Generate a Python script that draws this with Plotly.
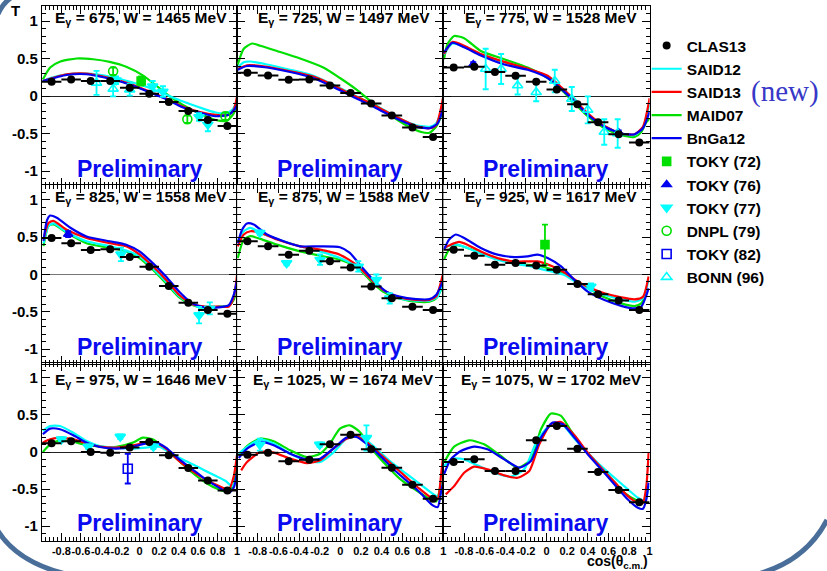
import numpy as np
import plotly.graph_objects as go

W, H = 827, 571

E_GAMMA = [675, 725, 775, 825, 875, 925, 975, 1025, 1075]
W_CM = [1465, 1497, 1528, 1558, 1588, 1617, 1646, 1674, 1702]

# ---------------- CLAS13 data ----------------
CLAS13_X = [-0.9, -0.7, -0.5, -0.3, -0.1, 0.1, 0.3, 0.5, 0.7, 0.9]
CLAS13_XERR = [0.1, 0.1, 0.1, 0.1, 0.1, 0.1, 0.1, 0.1, 0.1, 0.1]
CLAS13_Y = [
    [0.19, 0.22, 0.20, 0.20, 0.11, 0.03, -0.08, -0.20, -0.32, -0.40],
    [0.31, 0.275, 0.216, 0.22, 0.14, 0.04, -0.10, -0.26, -0.42, -0.545],
    [0.38, 0.39, 0.32, 0.27, 0.19, 0.086, -0.11, -0.35, -0.51, -0.62],
    [0.49, 0.42, 0.33, 0.34, 0.234, 0.104, -0.153, -0.378, -0.477, -0.527],
    [0.446, 0.378, 0.266, 0.32, 0.176, 0.095, -0.162, -0.32, -0.432, -0.477],
    [0.333, 0.252, 0.13, 0.153, 0.12, 0.063, -0.126, -0.266, -0.35, -0.477],
    [0.117, 0.144, 0.0, -0.009, 0.059, 0.135, -0.045, -0.216, -0.383, -0.518],
    [-0.036, -0.009, -0.126, -0.104, 0.104, 0.234, 0.036, -0.212, -0.441, -0.63],
    [-0.135, -0.099, -0.257, -0.257, 0.158, 0.351, 0.045, -0.27, -0.514, -0.676],
]

# ---------------- model curves ----------------
SAID12_X = [
    [-0.99, -0.915, -0.746, -0.542, -0.305, -0.068, 0.10, 0.27, 0.44, 0.61, 0.78, 0.88, 0.95, 1.0],
    [-0.994, -0.936, -0.871, -0.71, -0.486, -0.26, -0.068, 0.093, 0.254, 0.415, 0.576, 0.736, 0.865, 0.929, 1.0],
    [-0.994, -0.913, -0.799, -0.637, -0.41, -0.183, 0.011, 0.141, 0.271, 0.40, 0.562, 0.724, 0.854, 0.935, 1.0],
    [-0.983, -0.932, -0.881, -0.746, -0.542, -0.305, -0.136, 0.0, 0.136, 0.271, 0.407, 0.542, 0.678, 0.814, 0.915, 0.966, 1.0],
    [-0.994, -0.936, -0.871, -0.775, -0.614, -0.389, -0.196, -0.003, 0.158, 0.286, 0.415, 0.576, 0.736, 0.865, 0.945, 1.0],
    [-0.994, -0.929, -0.864, -0.767, -0.637, -0.475, -0.313, -0.183, -0.086, 0.044, 0.173, 0.303, 0.433, 0.562, 0.724, 0.854, 0.935, 0.99],
    [-0.99, -0.915, -0.814, -0.678, -0.542, -0.407, -0.237, -0.068, 0.068, 0.203, 0.339, 0.475, 0.61, 0.746, 0.881, 0.949, 1.0],
    [-0.984, -0.904, -0.775, -0.646, -0.486, -0.325, -0.196, -0.068, 0.061, 0.158, 0.254, 0.383, 0.511, 0.64, 0.768, 0.897, 0.961, 1.0],
    [-0.994, -0.913, -0.799, -0.67, -0.508, -0.345, -0.216, -0.086, 0.044, 0.141, 0.271, 0.40, 0.53, 0.659, 0.789, 0.886, 0.951, 0.99],
]
SAID12_Y = [
    [0.2, 0.24, 0.29, 0.30, 0.26, 0.18, 0.11, 0.02, -0.07, -0.15, -0.22, -0.23, -0.185, -0.07],
    [0.38, 0.45, 0.46, 0.42, 0.35, 0.27, 0.15, 0.04, -0.07, -0.18, -0.30, -0.39, -0.41, -0.365, -0.14],
    [0.55, 0.70, 0.66, 0.55, 0.45, 0.36, 0.26, 0.11, -0.06, -0.24, -0.41, -0.50, -0.52, -0.42, -0.1],
    [0.42, 0.65, 0.685, 0.57, 0.446, 0.38, 0.32, 0.243, 0.085, -0.095, -0.29, -0.40, -0.455, -0.43, -0.42, -0.30, -0.07],
    [0.446, 0.58, 0.626, 0.56, 0.477, 0.378, 0.31, 0.22, 0.108, -0.05, -0.207, -0.32, -0.35, -0.35, -0.297, -0.07],
    [0.356, 0.392, 0.40, 0.356, 0.28, 0.198, 0.144, 0.117, 0.086, 0.04, -0.005, -0.117, -0.207, -0.275, -0.333, -0.365, -0.32, -0.07],
    [0.284, 0.35, 0.35, 0.26, 0.149, 0.081, 0.059, 0.045, 0.059, 0.072, -0.032, -0.122, -0.21, -0.30, -0.39, -0.46, -0.35],
    [-0.023, 0.068, 0.167, 0.113, -0.023, -0.113, -0.135, -0.009, 0.18, 0.216, 0.158, 0.0, -0.158, -0.293, -0.428, -0.563, -0.608, -0.36],
    [-0.19, -0.09, -0.099, -0.18, -0.28, -0.333, -0.234, 0.171, 0.374, 0.387, 0.18, -0.009, -0.19, -0.347, -0.505, -0.617, -0.662, -0.46],
]

SAID13_X = [
    [-0.99, -0.746, -0.542, -0.305, -0.068, 0.10, 0.27, 0.44, 0.61, 0.78, 0.915, 0.966, 1.0],
    [-0.994, -0.904, -0.71, -0.486, -0.26, -0.068, 0.093, 0.254, 0.415, 0.576, 0.736, 0.865, 0.929, 1.0],
    [-0.994, -0.913, -0.799, -0.637, -0.41, -0.183, 0.011, 0.141, 0.271, 0.40, 0.562, 0.724, 0.854, 0.935, 1.0],
    [-0.983, -0.932, -0.881, -0.746, -0.542, -0.305, -0.136, 0.0, 0.136, 0.271, 0.407, 0.542, 0.678, 0.814, 0.915, 0.966, 1.0],
    [-0.994, -0.936, -0.871, -0.775, -0.614, -0.389, -0.196, -0.003, 0.158, 0.286, 0.415, 0.576, 0.736, 0.865, 0.929, 0.994],
    [-0.994, -0.929, -0.848, -0.767, -0.637, -0.475, -0.313, -0.183, -0.086, 0.044, 0.173, 0.303, 0.433, 0.562, 0.724, 0.854, 0.935, 0.99],
    [-0.99, -0.915, -0.814, -0.678, -0.542, -0.407, -0.237, -0.068, 0.068, 0.169, 0.271, 0.407, 0.542, 0.678, 0.814, 0.915, 0.966, 1.0],
    [-0.961, -0.904, -0.775, -0.646, -0.486, -0.325, -0.196, -0.068, 0.061, 0.158, 0.254, 0.383, 0.511, 0.64, 0.768, 0.897, 0.945, 0.977, 1.0],
    [-0.977, -0.896, -0.799, -0.702, -0.572, -0.41, -0.28, -0.167, -0.07, 0.044, 0.141, 0.271, 0.40, 0.53, 0.659, 0.789, 0.886, 0.935, 0.968, 0.99],
]
SAID13_Y = [
    [0.2, 0.29, 0.30, 0.24, 0.15, 0.06, -0.03, -0.14, -0.21, -0.25, -0.25, -0.18, 0.0],
    [0.36, 0.41, 0.39, 0.33, 0.26, 0.145, 0.03, -0.07, -0.185, -0.30, -0.40, -0.43, -0.39, 0.0],
    [0.56, 0.72, 0.67, 0.56, 0.455, 0.365, 0.27, 0.12, -0.05, -0.23, -0.40, -0.50, -0.51, -0.41, -0.03],
    [0.47, 0.69, 0.72, 0.60, 0.49, 0.42, 0.38, 0.27, 0.11, -0.07, -0.275, -0.40, -0.43, -0.43, -0.43, -0.30, 0.0],
    [0.378, 0.536, 0.58, 0.56, 0.47, 0.378, 0.333, 0.266, 0.13, -0.05, -0.207, -0.306, -0.342, -0.342, -0.297, -0.005],
    [0.356, 0.40, 0.437, 0.40, 0.31, 0.22, 0.176, 0.176, 0.176, 0.117, 0.027, -0.095, -0.185, -0.252, -0.306, -0.333, -0.30, -0.027],
    [0.126, 0.171, 0.194, 0.171, 0.117, 0.072, 0.059, 0.09, 0.126, 0.126, 0.045, -0.122, -0.257, -0.37, -0.46, -0.505, -0.324, -0.03],
    [-0.248, -0.135, 0.0, -0.009, -0.09, -0.149, -0.113, 0.045, 0.18, 0.216, 0.135, -0.023, -0.18, -0.338, -0.495, -0.63, -0.63, -0.315, -0.02],
    [-0.572, -0.46, -0.28, -0.198, -0.234, -0.315, -0.347, -0.257, 0.104, 0.374, 0.405, 0.225, -0.009, -0.212, -0.405, -0.595, -0.685, -0.685, -0.46, -0.01],
]

MAID07_X = [
    [-0.99, -0.915, -0.81, -0.644, -0.475, -0.305, -0.136, 0.034, 0.17, 0.305, 0.44, 0.61, 0.78, 0.898, 0.966, 1.0],
    [-0.994, -0.936, -0.855, -0.775, -0.614, -0.389, -0.164, -0.003, 0.158, 0.318, 0.479, 0.64, 0.785, 0.865, 0.929, 0.977, 1.0],
    [-0.994, -0.961, -0.896, -0.799, -0.637, -0.41, -0.183, 0.011, 0.141, 0.271, 0.40, 0.562, 0.724, 0.854, 0.919, 0.968, 1.0],
    [-0.983, -0.932, -0.881, -0.746, -0.542, -0.305, -0.136, 0.0, 0.136, 0.271, 0.407, 0.542, 0.678, 0.814, 0.915, 0.966, 1.0],
    [-0.994, -0.936, -0.871, -0.775, -0.614, -0.389, -0.196, -0.003, 0.158, 0.286, 0.415, 0.576, 0.736, 0.865, 0.929, 0.994],
    [-0.994, -0.945, -0.864, -0.767, -0.637, -0.475, -0.313, -0.183, -0.086, 0.044, 0.173, 0.303, 0.433, 0.562, 0.724, 0.854, 0.919, 0.968],
    [-0.99, -0.915, -0.83, -0.712, -0.576, -0.407, -0.237, -0.068, 0.034, 0.136, 0.271, 0.407, 0.542, 0.678, 0.814, 0.915, 0.966, 0.99],
    [-0.984, -0.904, -0.775, -0.646, -0.486, -0.325, -0.196, -0.10, -0.003, 0.093, 0.19, 0.318, 0.447, 0.576, 0.736, 0.865, 0.929, 0.977],
    [-0.994, -0.896, -0.75, -0.605, -0.442, -0.28, -0.151, -0.054, 0.044, 0.141, 0.238, 0.368, 0.497, 0.627, 0.756, 0.886, 0.935, 0.984],
]
MAID07_Y = [
    [0.22, 0.38, 0.46, 0.50, 0.49, 0.455, 0.39, 0.275, 0.14, 0.0, -0.117, -0.23, -0.32, -0.33, -0.23, -0.10],
    [0.42, 0.63, 0.70, 0.67, 0.60, 0.50, 0.38, 0.24, 0.085, -0.095, -0.25, -0.39, -0.48, -0.49, -0.41, -0.27, -0.18],
    [0.49, 0.69, 0.80, 0.77, 0.60, 0.49, 0.38, 0.24, 0.086, -0.095, -0.27, -0.43, -0.52, -0.545, -0.48, -0.35, -0.3],
    [0.38, 0.65, 0.67, 0.56, 0.42, 0.356, 0.31, 0.22, 0.063, -0.117, -0.306, -0.41, -0.455, -0.43, -0.42, -0.34, -0.16],
    [0.22, 0.468, 0.514, 0.477, 0.40, 0.31, 0.252, 0.198, 0.10, -0.072, -0.23, -0.32, -0.365, -0.365, -0.32, -0.16],
    [0.198, 0.333, 0.392, 0.356, 0.288, 0.207, 0.153, 0.13, 0.117, 0.072, 0.005, -0.108, -0.207, -0.306, -0.387, -0.423, -0.387, -0.25],
    [0.0, 0.104, 0.149, 0.149, 0.104, 0.072, 0.068, 0.126, 0.194, 0.171, 0.036, -0.122, -0.28, -0.414, -0.505, -0.54, -0.437, -0.23],
    [-0.045, 0.081, 0.18, 0.144, 0.023, -0.068, -0.023, 0.113, 0.315, 0.36, 0.27, 0.023, -0.18, -0.36, -0.518, -0.63, -0.667, -0.405],
    [-0.144, 0.072, 0.158, 0.104, -0.054, -0.212, -0.099, 0.306, 0.518, 0.486, 0.284, 0.036, -0.167, -0.36, -0.55, -0.662, -0.685, -0.46],
]

BNGA12_X = [
    [-0.99, -0.746, -0.542, -0.305, -0.068, 0.10, 0.27, 0.44, 0.61, 0.78, 0.915, 0.966, 1.0],
    [-0.994, -0.904, -0.71, -0.486, -0.26, -0.068, 0.093, 0.254, 0.415, 0.576, 0.736, 0.865, 0.945, 1.0],
    [-0.994, -0.913, -0.799, -0.637, -0.41, -0.183, 0.011, 0.141, 0.271, 0.40, 0.562, 0.724, 0.854, 0.935, 1.0],
    [-0.983, -0.949, -0.915, -0.847, -0.712, -0.542, -0.305, -0.136, 0.0, 0.136, 0.271, 0.407, 0.542, 0.678, 0.814, 0.915, 0.966, 1.0],
    [-0.994, -0.952, -0.904, -0.839, -0.71, -0.55, -0.389, -0.196, -0.003, 0.093, 0.19, 0.318, 0.447, 0.576, 0.736, 0.865, 0.929, 0.994],
    [-0.994, -0.945, -0.88, -0.799, -0.637, -0.475, -0.313, -0.183, -0.086, 0.011, 0.141, 0.271, 0.40, 0.562, 0.724, 0.854, 0.919, 0.99],
    [-0.99, -0.915, -0.814, -0.678, -0.542, -0.407, -0.237, -0.068, 0.068, 0.169, 0.271, 0.407, 0.542, 0.678, 0.814, 0.915, 0.966, 1.0],
    [-0.984, -0.904, -0.775, -0.646, -0.486, -0.325, -0.196, -0.068, 0.061, 0.158, 0.254, 0.383, 0.511, 0.64, 0.768, 0.897, 0.945, 0.977, 1.0],
    [-0.994, -0.929, -0.832, -0.702, -0.572, -0.41, -0.264, -0.151, -0.054, 0.06, 0.157, 0.271, 0.40, 0.53, 0.659, 0.789, 0.886, 0.935, 0.968, 0.99],
]
BNGA12_Y = [
    [0.2, 0.28, 0.29, 0.23, 0.14, 0.05, -0.04, -0.15, -0.22, -0.27, -0.25, -0.19, -0.12],
    [0.35, 0.40, 0.38, 0.32, 0.24, 0.12, 0.01, -0.095, -0.21, -0.32, -0.41, -0.43, -0.365, -0.15],
    [0.58, 0.71, 0.65, 0.54, 0.42, 0.35, 0.24, 0.095, -0.07, -0.25, -0.41, -0.50, -0.51, -0.43, -0.21],
    [0.45, 0.72, 0.79, 0.76, 0.63, 0.51, 0.446, 0.40, 0.31, 0.153, -0.027, -0.23, -0.387, -0.44, -0.44, -0.41, -0.27, -0.07],
    [0.42, 0.60, 0.685, 0.67, 0.536, 0.446, 0.378, 0.378, 0.365, 0.29, 0.13, -0.07, -0.23, -0.297, -0.33, -0.33, -0.275, -0.095],
    [0.333, 0.468, 0.536, 0.49, 0.356, 0.266, 0.234, 0.243, 0.266, 0.22, 0.108, -0.072, -0.23, -0.342, -0.42, -0.455, -0.43, -0.185],
    [0.24, 0.315, 0.306, 0.225, 0.126, 0.068, 0.045, 0.072, 0.117, 0.126, 0.059, -0.099, -0.234, -0.37, -0.48, -0.55, -0.48, -0.257],
    [-0.081, 0.045, 0.135, 0.09, -0.023, -0.099, -0.09, 0.045, 0.194, 0.203, 0.113, -0.045, -0.225, -0.383, -0.54, -0.72, -0.743, -0.54, -0.405],
    [-0.30, -0.099, 0.0135, 0.072, 0.036, -0.099, -0.212, -0.121, 0.194, 0.396, 0.374, 0.194, -0.032, -0.234, -0.437, -0.64, -0.752, -0.766, -0.64, -0.414],
]

# ---------------- older data sets (panel index, x, y, error) ----------------
TOKY72_PANEL = [0, 5]
TOKY72_X = [0.017, -0.015]
TOKY72_Y = [0.20, 0.40]
TOKY72_ERR = [0.06, 0.27]

TOKY76_PANEL = [2, 2, 3]
TOKY76_X = [-0.71, 0.70, -0.73]
TOKY76_Y = [0.42, -0.49, 0.54]
TOKY76_ERR = [0.03, 0.03, 0.04]

TOKY77_PANEL = [0, 0, 0, 0, 0, 3, 3, 3, 4, 4, 4, 4, 4, 4, 5, 6, 6, 6, 6, 7, 7, 7]
TOKY77_X = [-0.24, 0.135, 0.24, 0.61, 0.70, -0.19, 0.61, 0.72, -0.78, -0.52, -0.196, 0.174, 0.35, 0.48,
            0.43, -0.80, -0.525, -0.197, 0.142, -0.78, -0.20, 0.254]
TOKY77_Y = [0.21, 0.13, 0.06, -0.28, -0.38, 0.27, -0.545, -0.455, 0.56, 0.153, 0.198, 0.108, -0.07, -0.32,
            -0.16, 0.171, 0.072, 0.207, 0.072, 0.099, 0.099, 0.19]
TOKY77_ERR = [0.05, 0.07, 0.07, 0.05, 0.09, 0.09, 0.11, 0.08, 0.03, 0.03, 0.07, 0.07, 0.07, 0.07,
              0.04, 0.03, 0.03, 0.03, 0.03, 0.08, 0.03, 0.17]

DNPL79_PANEL = [0, 0, 0]
DNPL79_X = [-0.27, 0.49, 0.88]
DNPL79_Y = [0.33, -0.31, -0.27]
DNPL79_ERR = [0.05, 0.05, 0.05]

TOKY82_PANEL = [6]
TOKY82_X = [-0.12]
TOKY82_Y = [-0.225]
TOKY82_ERR = [0.20]

BONN96_PANEL = [0, 0, 0, 2, 2, 2, 2, 2, 2, 2, 2, 2]
BONN96_X = [-0.44, -0.27, -0.10, -0.59, -0.44, -0.28, -0.10, 0.08, 0.245, 0.40, 0.56, 0.69]
BONN96_Y = [0.175, 0.095, 0.085, 0.36, 0.36, 0.14, 0.05, 0.20, -0.04, -0.185, -0.48, -0.50]
BONN96_ERR = [0.16, 0.10, 0.08, 0.27, 0.20, 0.12, 0.12, 0.15, 0.16, 0.18, 0.17, 0.19]

# ---------------- styling ----------------
C_CYAN = "#00FFFF"
C_RED = "#FF0000"
C_GREEN = "#00E000"
C_BLUE = "#0000F0"
FONT = "Liberation Sans"

COL_PX = [(42, 238), (238, 445), (445, 652)]
ROW_PX = [(6, 186), (185, 364), (363, 541)]


def px2paper_x(px):
    return px / W


def px2paper_y(py):
    return 1 - py / H


fig = go.Figure()
shown = set()


def axis_names(i):
    n = "" if i == 0 else str(i + 1)
    return "x" + n, "y" + n


def add_curve(i, xs, ys, name, color, rank):
    xa, ya = axis_names(i)
    fig.add_trace(go.Scatter(
        x=xs, y=ys, mode="lines", name=name, xaxis=xa, yaxis=ya,
        line=dict(color=color, width=2.2, shape="spline", smoothing=0.6),
        showlegend=name not in shown, legendrank=rank, hoverinfo="skip"))
    shown.add(name)


def add_points(panels, xs, ys, errs, name, symbol, color, size, rank, lw=1.6):
    for i in range(9):
        px = [x for p, x in zip(panels, xs) if p == i]
        py = [y for p, y in zip(panels, ys) if p == i]
        pe = [e for p, e in zip(panels, errs) if p == i]
        if not px:
            continue
        xa, ya = axis_names(i)
        fig.add_trace(go.Scatter(
            x=px, y=py, mode="markers", name=name, xaxis=xa, yaxis=ya,
            marker=dict(symbol=symbol, color=color, size=size, line=dict(color=color, width=lw)),
            error_y=dict(type="data", array=pe, color=color, thickness=1.8, width=3),
            showlegend=name not in shown, legendrank=rank, hoverinfo="skip"))
        shown.add(name)


for i in range(9):
    add_curve(i, MAID07_X[i], MAID07_Y[i], "MAID07", C_GREEN, 4)
    add_curve(i, SAID12_X[i], SAID12_Y[i], "SAID12", C_CYAN, 2)
    add_curve(i, SAID13_X[i], SAID13_Y[i], "SAID13", C_RED, 3)
    add_curve(i, BNGA12_X[i], BNGA12_Y[i], "BnGa12", C_BLUE, 5)

add_points(TOKY72_PANEL, TOKY72_X, TOKY72_Y, TOKY72_ERR, "TOKY (72)", "square", C_GREEN, 8, 6)
add_points(TOKY76_PANEL, TOKY76_X, TOKY76_Y, TOKY76_ERR, "TOKY (76)", "triangle-up", C_BLUE, 8, 7)
add_points(TOKY77_PANEL, TOKY77_X, TOKY77_Y, TOKY77_ERR, "TOKY (77)", "triangle-down", C_CYAN, 9, 8)
add_points(DNPL79_PANEL, DNPL79_X, DNPL79_Y, DNPL79_ERR, "DNPL (79)", "circle-open", C_GREEN, 9, 9)
add_points(TOKY82_PANEL, TOKY82_X, TOKY82_Y, TOKY82_ERR, "TOKY (82)", "square-open", C_BLUE, 9, 10)
add_points(BONN96_PANEL, BONN96_X, BONN96_Y, BONN96_ERR, "BONN (96)", "triangle-up-open", C_CYAN, 9, 11)

for i in range(9):
    xa, ya = axis_names(i)
    fig.add_trace(go.Scatter(
        x=CLAS13_X, y=CLAS13_Y[i], mode="markers", name="CLAS13", xaxis=xa, yaxis=ya,
        marker=dict(symbol="circle", color="black", size=8),
        error_x=dict(type="data", array=CLAS13_XERR, color="black", thickness=2, width=0),
        showlegend=(i == 0), legendrank=1, hoverinfo="skip"))

# ---------------- axes ----------------
xtickvals = [-1, -0.8, -0.6, -0.4, -0.2, 0, 0.2, 0.4, 0.6, 0.8, 1]
xticktext = ["", "-0.8", "-0.6", "-0.4", "-0.2", "0", "0.2", "0.4", "0.6", "0.8", "1"]
xminor = [round(v, 2) for v in np.arange(-1, 1.0001, 0.04)]
ytickvals = [-1, -0.5, 0, 0.5, 1]
yticktext = ["-1", "-0.5", "0", "0.5", "1"]
yminor = [round(v, 2) for v in np.arange(-1.2, 1.2001, 0.1)]

layout = dict(
    width=W, height=H, margin=dict(l=0, r=0, t=0, b=0),
    paper_bgcolor="white", plot_bgcolor="white",
    font=dict(family=FONT, color="black"),
    showlegend=True,
)
for i in range(9):
    r, c = divmod(i, 3)
    n = "" if i == 0 else str(i + 1)
    x0, x1 = COL_PX[c]
    y0, y1 = ROW_PX[r]
    layout["xaxis" + n] = dict(
        domain=[px2paper_x(x0), px2paper_x(x1)], range=[-1, 1], anchor="y" + n,
        showgrid=False, zeroline=False, showline=True, linecolor="black", linewidth=1,
        mirror="allticks", ticks="inside", ticklen=8, tickcolor="black",
        tickmode="array", tickvals=xtickvals, ticktext=xticktext, tickangle=0,
        showticklabels=(r == 2),
        tickfont=dict(size=11, family=FONT, weight="bold", color="black"),
        minor=dict(tickmode="array", tickvals=xminor, ticks="inside", ticklen=4, tickcolor="black"),
    )
    layout["yaxis" + n] = dict(
        domain=[px2paper_y(y1), px2paper_y(y0)], range=[-1.2, 1.2], anchor="x" + n,
        showgrid=False, zeroline=True, zerolinecolor="#222" if r != 1 else "#777", zerolinewidth=1.2,
        showline=True, linecolor="black", linewidth=1,
        mirror="allticks", ticks="inside", ticklen=8, tickcolor="black",
        tickmode="array", tickvals=ytickvals, ticktext=yticktext,
        showticklabels=(c == 0),
        tickfont=dict(size=15, family=FONT, weight="bold", color="black"),
        minor=dict(tickmode="array", tickvals=yminor, ticks="inside", ticklen=4, tickcolor="black"),
    )

annotations = []
TITLE_X = [141.5, 345, 553.5]
TITLE_Y = [18.5, 197, 380]
PRELIM_X = [140, 341, 547]
PRELIM_Y = [169, 347, 523]
for i in range(9):
    r, c = divmod(i, 3)
    annotations.append(dict(
        x=px2paper_x(TITLE_X[c]), y=px2paper_y(TITLE_Y[r]), xref="paper", yref="paper",
        text=f"E<sub>γ</sub> = {E_GAMMA[i]}, W = {W_CM[i]} MeV", showarrow=False,
        xanchor="center", yanchor="middle",
        font=dict(size=15.5, family=FONT, weight="bold", color="black")))
    annotations.append(dict(
        x=px2paper_x(PRELIM_X[c]), y=px2paper_y(PRELIM_Y[r]), xref="paper", yref="paper",
        text="Preliminary", showarrow=False, xanchor="center", yanchor="middle",
        font=dict(size=23, family=FONT, weight="bold", color="#0A0AF0")))

annotations.append(dict(
    x=px2paper_x(652), y=px2paper_y(561.5), xref="paper", yref="paper",
    text="cos(θ<sub>c.m.</sub>)", showarrow=False, xanchor="right", yanchor="middle",
    font=dict(size=14, family=FONT, weight="bold", color="black")))
annotations.append(dict(
    x=px2paper_x(16), y=px2paper_y(11), xref="paper", yref="paper",
    text="T", showarrow=False, xanchor="center", yanchor="middle",
    font=dict(size=15, family=FONT, weight="bold", color="black")))
annotations.append(dict(
    x=px2paper_x(752), y=px2paper_y(92), xref="paper", yref="paper",
    text="(new)", showarrow=False, xanchor="left", yanchor="middle",
    font=dict(size=29, family="Liberation Serif", color="#3838C8")))
layout["annotations"] = annotations

layout["legend"] = dict(
    x=px2paper_x(649), y=px2paper_y(29), xanchor="left", yanchor="top",
    bgcolor="rgba(0,0,0,0)", borderwidth=0, traceorder="normal",
    font=dict(size=15.5, family=FONT, weight="bold", color="black"),
    itemclick=False, itemdoubleclick=False,
)


def arc(p0, p1, p2):
    return "M {} {} Q {} {} {} {}".format(
        px2paper_x(p0[0]), px2paper_y(p0[1]), px2paper_x(p1[0]), px2paper_y(p1[1]),
        px2paper_x(p2[0]), px2paper_y(p2[1]))


FRAME = "#4A6E9A"
layout["shapes"] = [
    dict(type="path", xref="paper", yref="paper", path=arc((-2, 531), (20, 566), (80, 577)),
         line=dict(color=FRAME, width=5)),
    dict(type="path", xref="paper", yref="paper", path=arc((830, 520), (806, 566), (748, 577)),
         line=dict(color=FRAME, width=5)),
    dict(type="path", xref="paper", yref="paper", path=arc((-2, 14), (3, 3), (12, -3)),
         line=dict(color=FRAME, width=5)),
]

fig.update_layout(**layout)
fig.write_html("out.html")
